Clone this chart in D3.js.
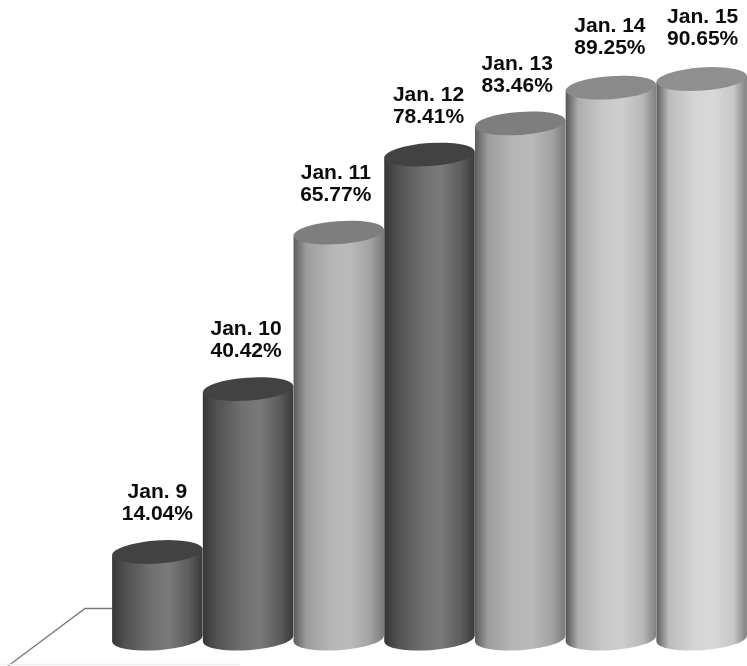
<!DOCTYPE html>
<html>
<head>
<meta charset="utf-8">
<script src="https://cdn.jsdelivr.net/npm/d3@7"></script>
<style>
    html, body { margin: 0; padding: 0; background: #fff; overflow: hidden; }
    text { font-family: "Liberation Sans", Arial, sans-serif; font-weight: bold; font-size: 21px; fill: #0c0c0c; }
</style>
</head>
<body>
<div id="chart"></div>
<script>
// Values
const days = ['Jan. 9', 'Jan. 10', 'Jan. 11', 'Jan. 12', 'Jan. 13', 'Jan. 14', 'Jan. 15'];
const percents = [14.04, 40.42, 65.77, 78.41, 83.46, 89.25, 90.65];

const width = 747;
const height = 666;

// Cylinder shading, one per bar
const tones = {
    dark: { top: '#434343', stops: ['#363636', '#505050', '#6e6e6e', '#7a7a7a', '#5c5c5c', '#3a3a3a'] },
    mid: { top: '#7e7e7e', stops: ['#5c5c5c', '#9c9c9c', '#b6b6b6', '#bababa', '#a2a2a2', '#7a7a7a'] },
    light: { top: '#8a8a8a', stops: ['#555555', '#adadad', '#c8c8c8', '#cdcdcd', '#b8b8b8', '#808080'] },
    pale: { top: '#8f8f8f', stops: ['#5e5e5e', '#bcbcbc', '#d4d4d4', '#d8d8d8', '#c8c8c8', '#808080'] }
};
const barTones = ['dark', 'dark', 'mid', 'dark', 'mid', 'light', 'pale'];
const stopOffsets = [0, 0.14, 0.42, 0.62, 0.85, 1];

const svg = d3.select('#chart')
    .append('svg')
    .attr('width', width)
    .attr('height', height);

const x = d3.scaleBand()
    .domain(days)
    .range([112, 747]);

const y = d3.scaleLinear()
    .domain([0, 100])
    .range([638.7, 21.3]);

// Gradients
const defs = svg.append('defs');
Object.entries(tones).forEach(([name, tone]) => {
    const grad = defs.append('linearGradient').attr('id', 'body-' + name);
    tone.stops.forEach((c, i) => {
        grad.append('stop').attr('offset', stopOffsets[i]).attr('stop-color', c);
    });
});

// The scan in the original is a little soft
defs.append('filter')
    .attr('id', 'soft')
    .append('feGaussianBlur')
    .attr('stdDeviation', 0.6);

// Floor lines behind the bars
svg.append('path')
    .attr('d', 'M8,666 L85,608.5 L114,608.5')
    .attr('fill', 'none')
    .attr('stroke', '#777')
    .attr('stroke-width', 1.3);

svg.append('line')
    .attr('x1', 0)
    .attr('x2', 240)
    .attr('y1', 664.5)
    .attr('y2', 664.5)
    .attr('stroke', '#eee')
    .attr('stroke-width', 1.5);

const rx = x.bandwidth() / 2;
const ry = 11.5;
const tilt = -4;
const rad = tilt * Math.PI / 180;
const endX = rx * Math.cos(rad);
const endY = rx * Math.sin(rad);

// Bars, left to right so each one sits over the one before
const bars = svg.append('g').attr('filter', 'url(#soft)');

days.forEach((day, i) => {
    const cx = x(day) + rx;
    const topY = y(percents[i]);
    const baseY = y(0);
    const tone = barTones[i];

    const g = bars.append('g');

    g.append('path')
        .attr('fill', `url(#body-${tone})`)
        .attr('d', `M${cx - endX},${topY - endY}
            L${cx - endX},${baseY - endY}
            A${rx},${ry} ${tilt} 0 0 ${cx + endX},${baseY + endY}
            L${cx + endX},${topY + endY} Z`);

    g.append('ellipse')
        .attr('cx', cx)
        .attr('cy', topY)
        .attr('rx', rx)
        .attr('ry', ry)
        .attr('fill', tones[tone].top)
        .attr('transform', `rotate(${tilt},${cx},${topY})`);
});

// Labels
const labelShift = [0, -2, -3, -1, -3, -1, 1];
const labelLift = [32, 32, 32, 32, 31, 34, 34];

days.forEach((day, i) => {
    const cx = x(day) + rx + labelShift[i];
    const base = y(percents[i]) - labelLift[i];

    const label = svg.append('text').attr('text-anchor', 'middle');
    label.append('tspan').attr('x', cx).attr('y', base - 22).text(day);
    label.append('tspan').attr('x', cx).attr('y', base).text(percents[i].toFixed(2) + '%');
});
</script>
</body>
</html>
